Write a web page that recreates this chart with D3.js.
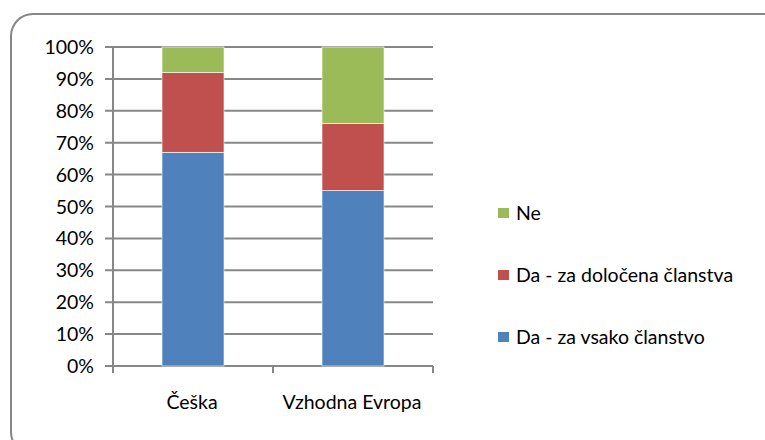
<!DOCTYPE html>
<html><head><meta charset="utf-8">
<script src="https://cdn.jsdelivr.net/npm/d3@7"></script>
<style>body{margin:0;background:#fff}svg{display:block}text{font-family:Lato,"Open Sans",sans-serif;fill:#000}</style>
</head><body><svg id="c" width="765" height="440"></svg>
<script>
const categories = ["Češka", "Vzhodna Evropa"];
const seriesNames = ["Da - za vsako članstvo", "Da - za določena članstva", "Ne"];
const vsako = [67, 55];
const dolocena = [25, 21];
const ne = [8, 24];
const colors = ["#4f81bd", "#c0504d", "#9bbb59"];
const yTicks = [0,10,20,30,40,50,60,70,80,90,100];

(function(){
const svg = d3.select("#c");
svg.append("rect").attr("x",11).attr("y",14).attr("width",775).attr("height",440)
  .attr("rx",22).attr("fill","#fff").attr("stroke","#868686").attr("stroke-width",2);

const pLeft=113, pRight=433, pTop=47, pBottom=366;
const x = d3.scaleBand().domain(categories).range([pLeft,pRight]).paddingInner(0.6125).paddingOuter(0.30625);
const y = d3.scaleLinear().domain([0,100]).range([pBottom,pTop]);

svg.append("g").selectAll("line").data(yTicks).join("line")
  .attr("x1",pLeft-8).attr("x2",pRight).attr("y1",d=>y(d)).attr("y2",d=>y(d))
  .attr("stroke","#878787").attr("stroke-width",2);

const rows = categories.map((c,i)=>({cat:c, v:[vsako[i], dolocena[i], ne[i]]}));
const stack = d3.stack().keys([0,1,2]).value((d,k)=>d.v[k]);
const series = stack(rows);
svg.append("g").selectAll("g").data(series).join("g").attr("fill",(d,i)=>colors[i])
  .selectAll("rect").data(d=>d).join("rect")
  .attr("x",d=>x(d.data.cat)).attr("width",x.bandwidth())
  .attr("y",d=>y(d[1])).attr("height",d=>y(d[0])-y(d[1]))
  .attr("stroke","#fff").attr("stroke-width",0.6);

svg.append("line").attr("x1",pLeft).attr("x2",pLeft).attr("y1",pTop).attr("y2",pBottom+7)
  .attr("stroke","#878787").attr("stroke-width",2);
const step = x.step();
[1,2].forEach(i=>{
  svg.append("line").attr("x1",pLeft+i*step).attr("x2",pLeft+i*step).attr("y1",pBottom).attr("y2",pBottom+7)
   .attr("stroke","#878787").attr("stroke-width",2);
});

const fs = 19.5;
svg.append("g").selectAll("text").data(yTicks).join("text")
  .attr("x",94).attr("y",d=>y(d)+7).attr("text-anchor","end").attr("font-size",fs)
  .text(d=>d+"%");
svg.append("g").selectAll("text").data(categories).join("text")
  .attr("x",d=>x(d)+x.bandwidth()/2 - 1).attr("y",409).attr("text-anchor","middle").attr("font-size",fs)
  .text(d=>d);

const legendOrder = [2,1,0];
const lg = svg.append("g").selectAll("g").data(legendOrder).join("g")
  .attr("transform",(d,i)=>`translate(498,${208+i*62})`);
lg.append("rect").attr("width",11).attr("height",10).attr("fill",d=>colors[d]);
lg.append("text").attr("x",18).attr("y",11.5).attr("font-size",fs).text(d=>seriesNames[d]);
})();
</script></body></html>
